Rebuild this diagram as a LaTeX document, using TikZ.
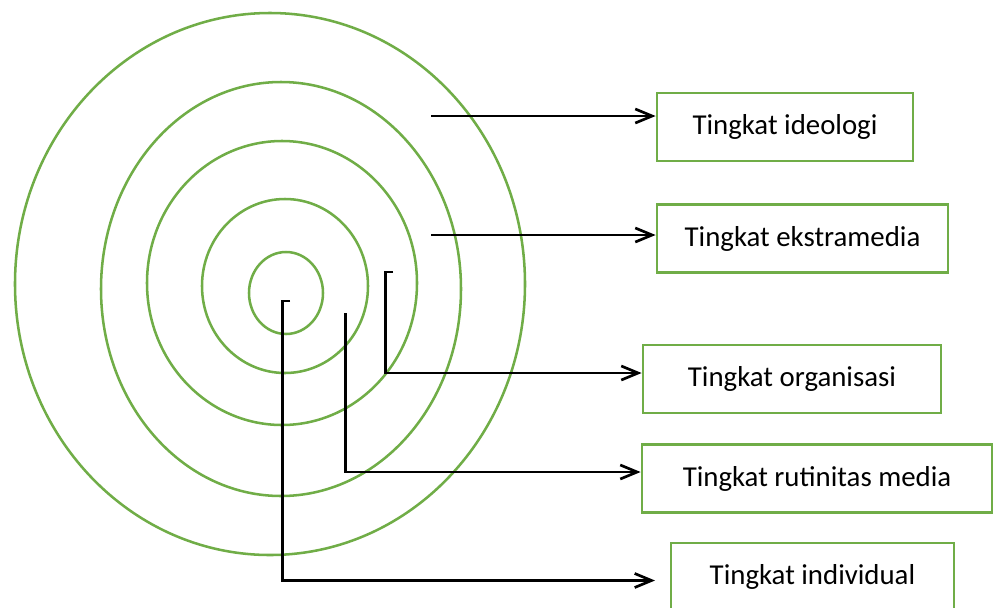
\documentclass[tikz,border=0pt]{standalone}
\usepackage{fontspec}
\setmainfont{Carlito}
\usetikzlibrary{arrows.meta}
\definecolor{ringgreen}{RGB}{112,173,71}

\begin{document}
\begin{tikzpicture}[
				ring/.style={draw=ringgreen, line width=1.8pt},
				level/.style={draw=ringgreen, line width=2pt, rectangle, minimum height=1.7cm, inner sep=0pt, font=\fontsize{20.5}{24}\selectfont},
				link/.style={line width=1.9pt, ->, >={Straight Barb[length=12pt,width=10pt]}}
				]
				\useasboundingbox (0,0) rectangle (24.875,-15.175);
				% concentric rings, outer to inner
				\draw[ring] (6.75,-7.1) ellipse (6.375 and 6.775);
				\draw[ring] (7.025,-7.225) ellipse (4.5 and 5.175);
				\draw[ring] (7.05,-7.075) ellipse (3.375 and 3.55);
				\draw[ring] (7.125,-7.15) ellipse (2.075 and 2.175);
				\draw[ring] (7.15,-7.325) ellipse (0.925 and 1.025);
				% boxes on the right
				\node[level, minimum width=6.4cm] (ideo) at (19.625,-3.175) {Tingkat ideologi};
				\node[level, minimum width=7.275cm] (ekst) at (20.0625,-5.9625) {Tingkat ekstramedia};
				\node[level, minimum width=7.45cm] (org) at (19.8,-9.475) {Tingkat organisasi};
				\node[level, minimum width=8.75cm] (rut) at (20.425,-11.9625) {Tingkat rutinitas media};
				\node[level, minimum width=7.075cm] (ind) at (20.3125,-14.425) {Tingkat individual};
				% start and corner points of the connectors
				\coordinate (ideoS) at (10.775,-2.9);
				\coordinate (ekstS) at (10.775,-5.875);
				\coordinate (orgT) at (9.825,-6.8);
				\coordinate (orgB) at (9.6375,-9.325);
				\coordinate (rutT) at (8.6375,-7.825);
				\coordinate (rutB) at (8.6375,-11.8);
				\coordinate (indT) at (7.25,-7.525);
				\coordinate (indB) at (7.0625,-14.5125);
				\coordinate (indE) at (16.375,-14.5125);
				\draw[link] (ideoS) -- (ideoS -| ideo.west);
				\draw[link] (ekstS) -- (ekstS -| ekst.west);
				\draw[link] (orgT) -- (orgT -| orgB) -- (orgB) -- (orgB -| org.west);
				\draw[link] (rutT) -- (rutB) -- (rutB -| rut.west);
				\draw[link] (indT) -- (indT -| indB) -- (indB) -- (indE);
			\end{tikzpicture}
\end{document}
